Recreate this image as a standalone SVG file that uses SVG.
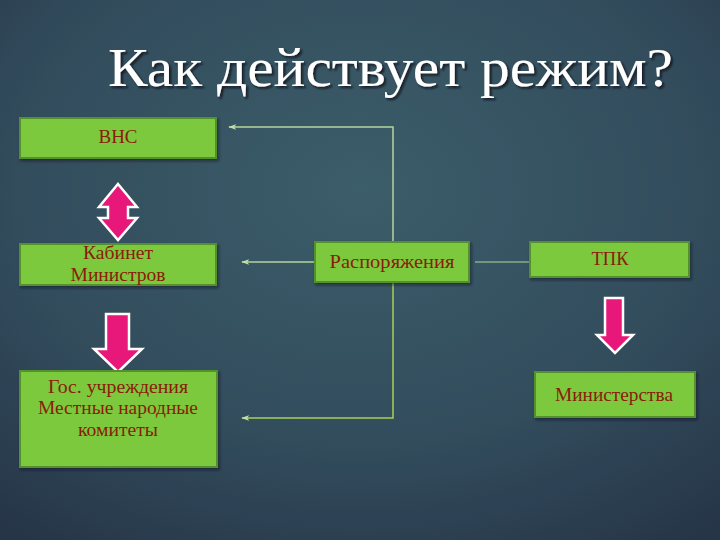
<svg xmlns="http://www.w3.org/2000/svg" width="720" height="540" viewBox="0 0 720 540">
<defs>
<radialGradient id="bg" cx="0.5" cy="0.35" r="0.8">
<stop offset="0" stop-color="#3c5d6a"/>
<stop offset="0.6" stop-color="#324c5c"/>
<stop offset="1" stop-color="#263548"/>
</radialGradient>
<filter id="sh" x="-10%" y="-10%" width="130%" height="140%">
<feDropShadow dx="1.5" dy="2" stdDeviation="1.5" flood-color="#101820" flood-opacity="0.6"/>
</filter>
<filter id="tsh" x="-5%" y="-20%" width="110%" height="150%">
<feDropShadow dx="2" dy="2" stdDeviation="1" flood-color="#0a1015" flood-opacity="0.85"/>
</filter>
<marker id="ah" viewBox="0 0 10 10" refX="9" refY="5" markerWidth="8" markerHeight="8" orient="auto" markerUnits="userSpaceOnUse">
<path d="M0,1.5 L10,5 L0,8.5 L2.5,5 Z" fill="#c2dcaa"/>
</marker>
<style>
.box{fill:#7bc93e;stroke:#53902f;stroke-width:2;filter:url(#sh)}
.lbl{font-family:"Liberation Serif","DejaVu Serif",serif;font-size:18px;fill:#8a1c08;text-anchor:middle}
.con{fill:none;stroke:#b5d59a;stroke-width:1.5}
.pink{fill:#e8177a;stroke:#ffffff;stroke-width:2.5;stroke-linejoin:miter}
</style>
</defs>
<rect width="720" height="540" fill="url(#bg)"/>
<text x="108" y="86" font-family="'Liberation Serif','DejaVu Serif',serif" font-size="55" fill="#ffffff" textLength="565" lengthAdjust="spacingAndGlyphs" filter="url(#tsh)">Как действует режим?</text>

<g id="connectors">
<polyline class="con" points="393,262 393,127 229,127" marker-end="url(#ah)"/>
<line class="con" x1="315" y1="262" x2="242" y2="262" marker-end="url(#ah)"/>
<polyline class="con" points="393,282 393,418 242,418" marker-end="url(#ah)" style="stroke:#a6d05a"/>
<line class="con" x1="475" y1="262" x2="530" y2="262" style="stroke-width:1"/>
</g>

<g id="arrow-vns-kab">
<path class="pink" d="M118,184 L137,207 L128,207 L128,218 L137,218 L118,240 L99,218 L108,218 L108,207 L99,207 Z"/>
</g>
<g id="arrow-kab-gos">
<path class="pink" d="M106,314 L129,314 L129,349 L142,349 L118,372 L94,349 L106,349 Z"/>
</g>
<g id="arrow-tpk-min">
<path class="pink" d="M605,298 L623,298 L623,335 L633,335 L615,353 L597,335 L605,335 Z"/>
</g>

<g id="node-vns">
<rect class="box" x="20" y="118" width="196" height="40"/>
<text class="lbl" x="118" y="143" textLength="39" lengthAdjust="spacingAndGlyphs">ВНС</text>
</g>
<g id="node-kabinet">
<rect class="box" x="20" y="244" width="196" height="41"/>
<text class="lbl" x="118" y="259" textLength="70" lengthAdjust="spacingAndGlyphs">Кабинет</text>
<text class="lbl" x="118" y="281" textLength="95" lengthAdjust="spacingAndGlyphs">Министров</text>
</g>
<g id="node-gos">
<rect class="box" x="20" y="371" width="197" height="96"/>
<text class="lbl" x="118" y="393" textLength="140" lengthAdjust="spacingAndGlyphs">Гос. учреждения</text>
<text class="lbl" x="118" y="414" textLength="160" lengthAdjust="spacingAndGlyphs">Местные народные</text>
<text class="lbl" x="118" y="436" textLength="80" lengthAdjust="spacingAndGlyphs">комитеты</text>
</g>
<g id="node-rasp">
<rect class="box" x="315" y="242" width="154" height="40"/>
<text class="lbl" x="392" y="268" textLength="125" lengthAdjust="spacingAndGlyphs">Распоряжения</text>
</g>
<g id="node-tpk">
<rect class="box" x="530" y="242" width="159" height="35"/>
<text class="lbl" x="610" y="265" textLength="37" lengthAdjust="spacingAndGlyphs">ТПК</text>
</g>
<g id="node-min">
<rect class="box" x="535" y="372" width="160" height="45"/>
<text class="lbl" x="614" y="401" textLength="118" lengthAdjust="spacingAndGlyphs">Министерства</text>
</g>
</svg>
